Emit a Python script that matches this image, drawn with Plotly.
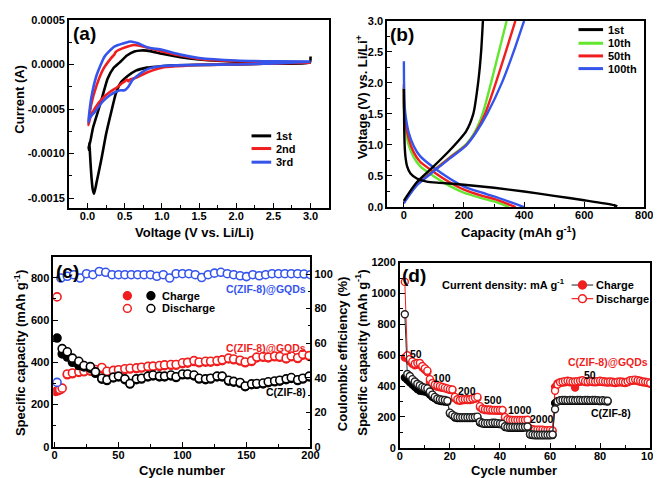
import plotly.graph_objects as go

W, H = 661, 478
FONT = "Liberation Sans, Arial, sans-serif"
RED = "#f01e1e"
BLUE = "#3554ec"
GREEN = "#62e62e"
BLACK = "#000000"

# ---------------- (a) cyclic voltammetry ----------------
cv1_v = [3.0, 2.99, 2.5, 2.0, 1.5, 1.2, 1.0, 0.8, 0.65, 0.54, 0.45, 0.38, 0.32, 0.25, 0.185,
         0.12, 0.088, 0.07, 0.053, 0.04, 0.03, 0.025, 0.02, 0.015, 0.02, 0.074, 0.14, 0.2,
         0.27, 0.35, 0.43, 0.53, 0.63, 0.72, 0.8, 1.0, 1.25, 1.5, 2.0, 2.5, 3.0]
cv1_i = [0.00009, 0.00002, 0.00001, 0.0, -0.000005, -0.00001, -0.00002, -0.000036, -0.00007,
         -0.00013, -0.0002, -0.00033, -0.00053, -0.00078, -0.00107, -0.00133, -0.00145,
         -0.0014, -0.00126, -0.0011, -0.00095, -0.00088, -0.00096, -0.00092, -0.00093,
         -0.00071, -0.00053, -0.00036, -0.00016, -0.00004, 0.00002, 0.0001, 0.000146,
         0.000157, 0.000155, 0.00012, 0.00008, 0.000055, 0.00003, 0.000025, 0.00002]
cv2_v = [3.0, 2.5, 2.0, 1.5, 1.2, 1.0, 0.8, 0.65, 0.57, 0.55, 0.53, 0.5, 0.45, 0.4, 0.3, 0.2,
         0.1, 0.04, 0.01, 0.05, 0.12, 0.21, 0.32, 0.36, 0.38, 0.47, 0.63, 0.8, 1.0, 1.25,
         1.5, 2.0, 2.5, 3.0]
cv2_i = [0.00002, 0.00001, 0.0, -0.000005, -0.00002, -0.000036, -0.00009, -0.00015, -0.00017,
         -0.00019, -0.00017, -0.00019, -0.00022, -0.000255, -0.00031, -0.00038, -0.00049,
         -0.00059, -0.00068, -0.00045, -0.00024, -0.000055, 0.000073, 0.00011, 0.00014,
         0.00018, 0.000218, 0.00019, 0.000145, 0.0001, 0.000062, 0.000036, 0.00003, 0.000025]
cv3_v = [3.0, 2.5, 2.0, 1.5, 1.2, 1.0, 0.8, 0.65, 0.6, 0.55, 0.5, 0.45, 0.4, 0.3, 0.2, 0.1,
         0.03, 0.01, 0.05, 0.12, 0.23, 0.36, 0.5, 0.58, 0.67, 0.81, 1.0, 1.25, 1.5, 2.0, 2.5, 3.0]
cv3_i = [0.00003, 0.00001, 0.0, -0.000005, -0.00001, -0.000018, -0.000055, -0.00014, -0.00018,
         -0.00025, -0.00029, -0.00029, -0.0003, -0.000345, -0.00042, -0.00053, -0.0006,
         -0.00065, -0.00038, -0.000127, 0.00009, 0.0002, 0.00024, 0.000258, 0.00024,
         0.00019, 0.000164, 0.00011, 0.000073, 0.000044, 0.000035, 0.000033]

# ---------------- (b) charge / discharge profiles ----------------
b1_dis_c = [0, 1, 3, 6, 11, 22, 43, 76, 120, 200, 300, 400, 500, 600, 700, 710]
b1_dis_v = [1.9, 1.3, 0.95, 0.78, 0.65, 0.54, 0.46, 0.41, 0.39, 0.36, 0.31, 0.25, 0.18, 0.11, 0.03, 0.01]
b1_chg_c = [0, 5, 43, 98, 152, 207, 231, 247, 257, 263]
b1_chg_v = [0.1, 0.14, 0.4, 0.65, 0.91, 1.22, 1.5, 2.0, 2.5, 3.0]
b10_dis_c = [0, 0.5, 5, 16, 33, 54, 98, 152, 200, 261, 300, 350]
b10_dis_v = [1.93, 1.54, 1.28, 1.0, 0.8, 0.66, 0.5, 0.34, 0.23, 0.14, 0.09, 0.0]
b10_chg_c = [0, 5, 43, 98, 152, 207, 235, 262, 290, 316, 342]
b10_chg_v = [0.08, 0.12, 0.37, 0.59, 0.8, 1.01, 1.2, 1.5, 2.0, 2.5, 3.0]
b50_dis_c = [0, 0.5, 5, 16, 33, 54, 98, 152, 200, 261, 300, 372]
b50_dis_v = [1.98, 1.6, 1.38, 1.1, 0.88, 0.73, 0.57, 0.4, 0.28, 0.18, 0.13, 0.0]
b50_chg_c = [0, 5, 43, 98, 152, 207, 238, 270, 306, 339, 371]
b50_chg_v = [0.07, 0.11, 0.36, 0.58, 0.79, 1.0, 1.2, 1.5, 2.0, 2.5, 3.0]
b100_dis_c = [0, 0.5, 2, 5, 16, 33, 54, 98, 152, 200, 261, 300, 400]
b100_dis_v = [2.35, 2.0, 1.7, 1.5, 1.2, 0.98, 0.82, 0.64, 0.46, 0.33, 0.23, 0.17, 0.0]
b100_chg_c = [0, 5, 43, 98, 152, 207, 240, 277, 326, 365, 400]
b100_chg_v = [0.06, 0.1, 0.35, 0.57, 0.78, 0.99, 1.2, 1.5, 2.0, 2.5, 3.0]

# ---------------- (c) cycling at constant rate ----------------
c_cyc = [10, 14, 19, 23, 28, 32, 37, 41, 46, 50, 55, 59, 64, 68, 73, 77, 82, 86, 91, 95, 100,
         104, 109, 113, 118, 122, 127, 131, 136, 140, 145, 149, 154, 158, 163, 167, 172, 176,
         181, 185, 190, 194, 199]
gqd_dis_cyc = [2, 4, 6] + c_cyc
gqd_dis_c = [710, 272, 278,
             345, 350, 355, 358, 362, 366, 376, 358, 362, 365, 370, 372, 374, 377, 381, 382,
             385, 388, 390, 390, 398, 400, 408, 402, 405, 405, 408, 412, 420, 416, 410, 402,
             408, 425, 428, 425, 430, 428, 420, 430, 422, 438, 432]
gqd_chg_cyc = [1, 3, 5] + c_cyc
gqd_chg_c = [262, 266, 272,
             341, 346, 352, 355, 358, 362, 370, 354, 358, 361, 366, 368, 370, 373, 377, 378,
             381, 384, 386, 386, 394, 396, 404, 398, 401, 401, 404, 408, 416, 412, 406, 398,
             404, 421, 424, 421, 426, 424, 416, 426, 418, 434, 428]
zif_dis_cyc = [6] + c_cyc
zif_dis_c = [465,
             450, 420, 405, 385, 380, 355, 325, 318, 330, 335, 322, 300, 322, 325, 335, 340,
             335, 335, 340, 332, 345, 345, 340, 325, 322, 325, 335, 335, 315, 310, 305, 288,
             298, 300, 302, 308, 312, 315, 322, 328, 318, 325, 335]
zif_chg_cyc = [2, 6] + c_cyc
zif_chg_c = [515, 440,
             425, 400, 385, 378, 372, 348, 320, 314, 326, 331, 318, 297, 318, 321, 331, 336,
             331, 331, 336, 328, 341, 341, 336, 321, 318, 321, 331, 331, 311, 306, 301, 285,
             294, 296, 298, 304, 308, 311, 318, 324, 314, 321, 331]
ce_cyc = [2, 5, 10, 15, 20, 25, 30, 35, 40, 45, 50, 55, 60, 65, 70, 75, 80, 85, 90, 95, 100,
          105, 110, 115, 120, 125, 130, 135, 140, 145, 150, 155, 160, 165, 170, 175, 180, 185,
          190, 195, 200]
ce_val = [37.3, 97.7, 98.7, 99.6, 97.7, 100.2, 99.6, 101.5, 101, 99.6, 99.6, 99.6, 99.6, 99.6,
          99.6, 99.6, 98.7, 99.6, 97.7, 100.2, 100.2, 100.2, 99.6, 98, 99.6, 100.5, 101, 100.2,
          99.6, 99, 98.5, 99.6, 99, 99.6, 100.2, 100.2, 100.2, 100.2, 100.2, 100, 99.6]

# ---------------- (d) rate capability ----------------
d_gqd_cyc = list(range(2, 101))
d_gqd_dis = [1075, 600, 575, 560, 545, 550, 550, 530, 515, 500,
             445, 420, 410, 405, 400, 395, 390, 385, 380, 378,
             330, 315, 310, 315, 315, 315, 315, 320, 325, 330,
             270, 255, 250, 248, 248, 245, 245, 245, 245, 245,
             200, 185, 182, 180, 180, 180, 180, 180, 180, 182,
             125, 120, 118, 118, 118, 118, 115, 115, 115, 112,
             370, 410, 425, 428, 432, 435, 432, 428, 430, 432,
             435, 438, 432, 430, 433, 432, 430, 432, 435, 432,
             430, 428, 430, 428, 425, 428, 430, 428, 425, 430,
             438, 440, 442, 438, 435, 430, 428, 425, 420]
d_gqd_chg = [585, 580, 560, 545, 535, 540, 540, 520, 505, 490,
             430, 410, 400, 395, 392, 388, 385, 380, 375, 372,
             320, 308, 305, 308, 310, 310, 310, 312, 318, 322,
             262, 250, 245, 243, 242, 242, 241, 240, 240, 240,
             192, 180, 177, 176, 176, 176, 176, 176, 176, 178,
             118, 113, 112, 111, 111, 110, 110, 109, 109, 108,
             395, 418, 420, 422, 425, 428, 425, 422, 390, 424,
             428, 430, 426, 424, 427, 426, 424, 426, 428, 426,
             424, 422, 424, 422, 420, 422, 424, 422, 420, 424,
             432, 434, 436, 432, 428, 424, 422, 420, 415]
d_zif_cyc = list(range(2, 84))
d_zif_dis = [865, 478, 465, 445, 430, 415, 405, 395, 390, 385,
             365, 345, 330, 320, 315, 312, 310, 305, 228, 215,
             205, 200, 198, 198, 198, 198, 198, 198, 200, 202,
             170, 162, 160, 160, 160, 162, 162, 160, 158, 155,
             140, 135, 135, 135, 135, 135, 135, 135, 136, 138,
             90, 86, 85, 85, 85, 85, 85, 85, 85, 86,
             250, 300, 308, 310, 310, 308, 310, 310, 308, 310,
             310, 308, 310, 310, 308, 310, 310, 308, 306, 308,
             306, 305]
d_zif_chg = [455, 440, 425, 410, 395, 380, 370, 368, 365, 360,
             345, 330, 320, 310, 305, 302, 300, 298, 222, 210,
             196, 193, 192, 192, 192, 192, 192, 193, 195, 197,
             163, 157, 155, 155, 155, 156, 156, 155, 153, 150,
             135, 131, 130, 130, 130, 130, 130, 130, 131, 133,
             86, 82, 81, 81, 81, 81, 81, 81, 81, 82,
             290, 302, 304, 305, 305, 304, 305, 305, 304, 305,
             305, 304, 305, 305, 304, 305, 305, 304, 302, 304,
             302, 300]

# ---------------- tick labels ----------------
a_xticks = [0.0, 0.5, 1.0, 1.5, 2.0, 2.5, 3.0]
a_xtext = ["0.0", "0.5", "1.0", "1.5", "2.0", "2.5", "3.0"]
a_yticks = [0.0005, 0.0, -0.0005, -0.001, -0.0015]
a_ytext = ["0.0005", "0.0000", "-0.0005", "-0.0010", "-0.0015"]
b_xticks = [0, 200, 400, 600, 800]
b_yticks = [0.0, 0.5, 1.0, 1.5, 2.0, 2.5, 3.0]
b_ytext = ["0.0", "0.5", "1.0", "1.5", "2.0", "2.5", "3.0"]
c_xticks = [0, 50, 100, 150, 200]
c_yticks = [0, 200, 400, 600, 800]
c_y2ticks = [0, 20, 40, 60, 80, 100]
d_xticks = [0, 20, 40, 60, 80, 100]
d_yticks = [0, 200, 400, 600, 800, 1000, 1200]


def px(x):
    return x / W


def py(y):
    return 1 - y / H


TF = dict(family=FONT, size=11, color="black", weight="bold")


def axis(domain, rng, tickvals, ticktext, minor_dtick, minor_tick0=0, **kw):
    d = dict(domain=domain, range=rng, tickmode="array", tickvals=tickvals,
             ticktext=ticktext, showline=True, linewidth=1.5, linecolor="black",
             mirror=True, ticks="inside", ticklen=5, tickwidth=1.3, tickcolor="black",
             showgrid=False, zeroline=False, tickfont=TF,
             minor=dict(tickmode="linear", tick0=minor_tick0, dtick=minor_dtick,
                        ticks="inside", ticklen=3, tickwidth=1.1, tickcolor="black",
                        showgrid=False))
    d.update(kw)
    return d


fig = go.Figure()

# (a)
for v, i, col in [(cv1_v, cv1_i, BLACK), (cv2_v, cv2_i, RED), (cv3_v, cv3_i, BLUE)]:
    fig.add_trace(go.Scatter(x=v, y=i, mode="lines", xaxis="x", yaxis="y",
                             line=dict(color=col, width=2.6, shape="spline", smoothing=0.5)))

# (b)
for xs, ys, col in [(b10_dis_c, b10_dis_v, GREEN), (b10_chg_c, b10_chg_v, GREEN),
                    (b50_dis_c, b50_dis_v, RED), (b50_chg_c, b50_chg_v, RED),
                    (b100_dis_c, b100_dis_v, BLUE), (b100_chg_c, b100_chg_v, BLUE),
                    (b1_dis_c, b1_dis_v, BLACK), (b1_chg_c, b1_chg_v, BLACK)]:
    fig.add_trace(go.Scatter(x=xs, y=ys, mode="lines", xaxis="x2", yaxis="y2",
                             line=dict(color=col, width=2.4, shape="spline", smoothing=0.6)))

# (c)
MS_C = 8
fig.add_trace(go.Scatter(x=gqd_chg_cyc, y=gqd_chg_c, mode="markers", xaxis="x3", yaxis="y3",
                         marker=dict(symbol="circle", size=MS_C, color=RED,
                                     line=dict(color=RED, width=1.5))))
fig.add_trace(go.Scatter(x=gqd_dis_cyc, y=gqd_dis_c, mode="markers", xaxis="x3", yaxis="y3",
                         marker=dict(symbol="circle", size=MS_C, color="white",
                                     line=dict(color=RED, width=1.6))))
fig.add_trace(go.Scatter(x=zif_chg_cyc, y=zif_chg_c, mode="markers", xaxis="x3", yaxis="y3",
                         marker=dict(symbol="circle", size=MS_C, color=BLACK,
                                     line=dict(color=BLACK, width=1.5))))
fig.add_trace(go.Scatter(x=zif_dis_cyc, y=zif_dis_c, mode="markers", xaxis="x3", yaxis="y3",
                         marker=dict(symbol="circle", size=MS_C, color="white",
                                     line=dict(color=BLACK, width=1.6))))
fig.add_trace(go.Scatter(x=ce_cyc, y=ce_val, mode="markers", xaxis="x3", yaxis="y5",
                         marker=dict(symbol="circle", size=MS_C, color="white",
                                     line=dict(color=BLUE, width=1.6))))

# (d)
MS_D = 7
fig.add_trace(go.Scatter(x=d_gqd_cyc, y=d_gqd_chg, mode="lines+markers", xaxis="x4", yaxis="y4",
                         line=dict(color=RED, width=1),
                         marker=dict(symbol="circle", size=MS_D, color=RED,
                                     line=dict(color=RED, width=1.3))))
fig.add_trace(go.Scatter(x=d_gqd_cyc, y=d_gqd_dis, mode="lines+markers", xaxis="x4", yaxis="y4",
                         line=dict(color=RED, width=1),
                         marker=dict(symbol="circle", size=MS_D, color="white",
                                     line=dict(color=RED, width=1.4))))
fig.add_trace(go.Scatter(x=d_zif_cyc, y=d_zif_chg, mode="lines+markers", xaxis="x4", yaxis="y4",
                         line=dict(color="#333333", width=1),
                         marker=dict(symbol="circle", size=MS_D, color=BLACK,
                                     line=dict(color=BLACK, width=1.3))))
fig.add_trace(go.Scatter(x=d_zif_cyc, y=d_zif_dis, mode="lines+markers", xaxis="x4", yaxis="y4",
                         line=dict(color="#333333", width=1),
                         marker=dict(symbol="circle", size=MS_D, color="white",
                                     line=dict(color="#222222", width=1.4))))

XS = dict(ticklabelstandoff=-3)
layout = dict(
    width=W, height=H, margin=dict(l=0, r=0, t=0, b=0), showlegend=False,
    paper_bgcolor="white", plot_bgcolor="white",
    xaxis=axis([px(59), px(324)], [-0.25, 3.25], a_xticks, a_xtext, 0.25, anchor="y", **XS),
    yaxis=axis([py(199), py(6)], [-0.00161, 0.0005], a_yticks, a_ytext, 0.00025, anchor="x"),
    xaxis2=axis([px(383), px(645)], [-56, 800], b_xticks, [str(t) for t in b_xticks], 100,
                anchor="y2", **XS),
    yaxis2=axis([py(198), py(7)], [0, 3.0], b_yticks, b_ytext, 0.25, anchor="x2"),
    xaxis3=axis([px(43), px(305)], [-1, 200], c_xticks, [str(t) for t in c_xticks], 25,
                anchor="y3", **XS),
    yaxis3=axis([py(444), py(249)], [0, 900], c_yticks, [str(t) for t in c_yticks], 100,
                anchor="x3", mirror=False),
    yaxis5=axis([py(444), py(249)], [0, 110], c_y2ticks, [str(t) for t in c_y2ticks], 10,
                anchor="x3", overlaying="y3", side="right", mirror=False),
    xaxis4=axis([px(396), px(651)], [0, 100], d_xticks, [str(t) for t in d_xticks], 10,
                anchor="y4", **XS),
    yaxis4=axis([py(445), py(255)], [0, 1200], d_yticks, [str(t) for t in d_yticks], 100, anchor="x4"),
)
fig.update_layout(**layout)


def ann(text, x, y, size=11, color="black", xanchor="center", yanchor="middle", angle=0):
    return dict(text=text, x=px(x), y=py(y), xref="paper", yref="paper", showarrow=False,
                xanchor=xanchor, yanchor=yanchor, textangle=angle,
                font=dict(family=FONT, size=size, color=color, weight="bold"))


anns = [
    ann("(a)", 61, 20, 19, xanchor="left"),
    ann("(b)", 384, 21, 19, xanchor="left"),
    ann("(c)", 44, 264, 19, xanchor="left"),
    ann("(d)", 396, 268, 19, xanchor="left"),
    # axis titles
    ann("Current (A)", 9, 87, 13, angle=-90),
    ann("Voltage (V vs. Li/Li)", 187, 224, 13),
    ann("Voltage (V) vs. Li/Li<sup>+</sup>", 357, 86, 13, angle=-90),
    ann("Capacity (mAh g<sup>-1</sup>)", 517, 224, 13),
    ann("Specific capacity (mAh g<sup>-1</sup>)", 9, 348, 13, angle=-90),
    ann("Cycle number", 174, 468, 13),
    ann("Coulombic efficiency (%)", 337, 348, 13, angle=-90),
    ann("Specific capacity (mAh g<sup>-1</sup>)", 357, 348, 13, angle=-90),
    ann("Cycle number", 512, 468, 13),
    # legends text
    ann("1st", 268, 125, 11, xanchor="left"),
    ann("2nd", 268, 138, 11, xanchor="left"),
    ann("3rd", 268, 152, 11, xanchor="left"),
    ann("1st", 606, 16, 11, xanchor="left"),
    ann("10th", 606, 30, 11, xanchor="left"),
    ann("50th", 606, 43, 11, xanchor="left"),
    ann("100th", 606, 56, 11, xanchor="left"),
    ann("Charge", 152, 289, 11, xanchor="left"),
    ann("Discharge", 152, 302, 11, xanchor="left"),
    ann("Charge", 594, 278, 11, xanchor="left"),
    ann("Discharge", 594, 292, 11, xanchor="left"),
    # panel c labels
    ann("C(ZIF-8)@GQDs", 303, 282, 10.5, color=BLUE, xanchor="right"),
    ann("C(ZIF-8)@GQDs", 303, 343, 10.5, color=RED, xanchor="right"),
    ann("C(ZIF-8)", 303, 388, 10.5, xanchor="right"),
    # panel d labels
    ann("Current density: mA g<sup>-1</sup>", 437, 277, 11, xanchor="left"),
    ann("50", 412, 349, 10.5),
    ann("100", 439, 373, 10.5),
    ann("200", 464, 387, 10.5),
    ann("500", 491, 396, 10.5),
    ann("1000", 518, 406, 10.5),
    ann("2000", 541, 415, 10.5),
    ann("C(ZIF-8)@GQDs", 608, 357, 10.5, color=RED),
    ann("50", 590, 370, 10.5),
    ann("C(ZIF-8)", 611, 409, 10.5),
]
fig.update_layout(annotations=anns)

shapes = []
for yy, col in [(125, BLACK), (138, RED), (152, BLUE)]:
    shapes.append(dict(type="line", xref="paper", yref="paper", x0=px(245), x1=px(265),
                       y0=py(yy), y1=py(yy), line=dict(color=col, width=3)))
for yy, col in [(16, BLACK), (30, GREEN), (43, RED), (56, BLUE)]:
    shapes.append(dict(type="line", xref="paper", yref="paper", x0=px(578), x1=px(603),
                       y0=py(yy), y1=py(yy), line=dict(color=col, width=3)))


def circ(cx, cy, r, fill, edge):
    return dict(type="circle", xref="paper", yref="paper", x0=px(cx - r), x1=px(cx + r),
                y0=py(cy + r), y1=py(cy - r), fillcolor=fill, line=dict(color=edge, width=1.5))


shapes += [circ(118.5, 289, 4, RED, RED), circ(142.5, 289, 4, BLACK, BLACK),
           circ(118.5, 302, 4, "white", RED), circ(142.5, 302, 4, "white", BLACK)]
shapes.append(dict(type="line", xref="paper", yref="paper", x0=px(571), x1=px(593),
                   y0=py(278), y1=py(278), line=dict(color="#444444", width=1.2)))
shapes.append(dict(type="line", xref="paper", yref="paper", x0=px(571), x1=px(593),
                   y0=py(292), y1=py(292), line=dict(color=RED, width=1.2)))
shapes += [circ(582, 278, 4, RED, RED), circ(582, 292, 4, "white", RED)]
fig.update_layout(shapes=shapes)

fig.write_html("out.html")
